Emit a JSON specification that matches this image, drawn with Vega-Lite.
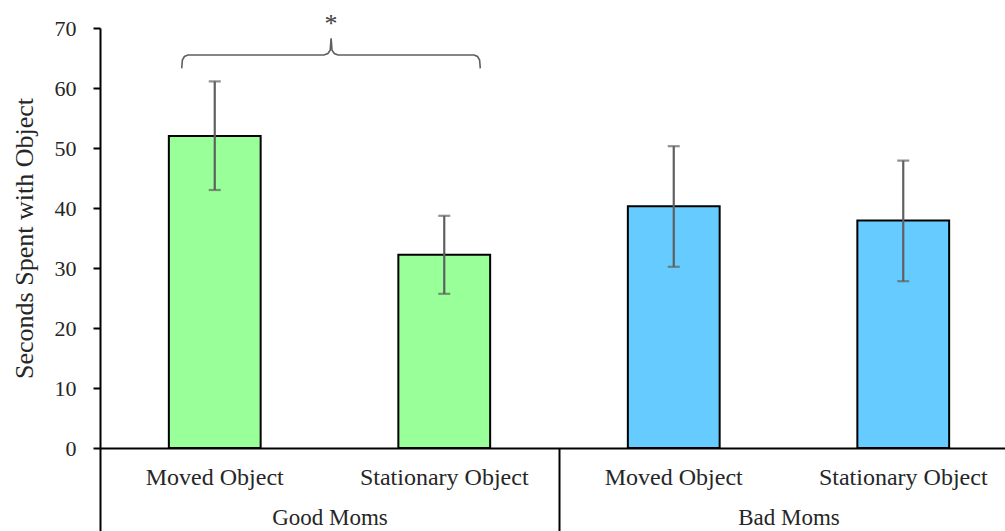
{
  "$schema": "https://vega.github.io/schema/vega-lite/v6.json",
  "width": 905,
  "height": 420,
  "autosize": {"type": "none"},
  "padding": {"left": 100, "top": 28, "right": 0, "bottom": 83},
  "background": "white",
  "config": {
    "view": {"stroke": null},
    "axis": {"grid": false},
    "axisY": {
      "domainColor": "black",
      "domainWidth": 2,
      "tickColor": "black",
      "tickWidth": 2,
      "tickSize": 7,
      "labelFont": "Liberation Serif",
      "labelFontSize": 22,
      "labelColor": "#262626",
      "labelPadding": 17,
      "titleFont": "Liberation Serif",
      "titleFontSize": 26,
      "titleFontWeight": "normal",
      "titleColor": "#262626",
      "titlePadding": 17
    }
  },
  "data": {
    "values": [
      {"group": "Good Moms", "cond": "Moved Object", "key": "Good Moms|Moved Object", "value": 52.0, "lo": 43.0, "hi": 61.1},
      {"group": "Good Moms", "cond": "Stationary Object", "key": "Good Moms|Stationary Object", "value": 32.2, "lo": 25.7, "hi": 38.7},
      {"group": "Bad Moms", "cond": "Moved Object", "key": "Bad Moms|Moved Object", "value": 40.3, "lo": 30.2, "hi": 50.3},
      {"group": "Bad Moms", "cond": "Stationary Object", "key": "Bad Moms|Stationary Object", "value": 37.9, "lo": 27.8, "hi": 47.9}
    ]
  },
  "layer": [
    {
      "mark": {"type": "bar", "stroke": "black", "strokeWidth": 2},
      "encoding": {
        "x": {
          "field": "group", "type": "nominal", "sort": ["Good Moms", "Bad Moms"],
          "scale": {"range": [0, 918], "paddingInner": 0, "paddingOuter": 0},
          "axis": {
            "orient": "bottom",
            "title": null, "labelAngle": 0, "domain": true, "domainColor": "black", "domainWidth": 2,
            "ticks": true, "tickBand": "extent", "tickSize": 83, "tickWidth": 2, "tickColor": "black",
            "labelFont": "Liberation Serif", "labelFontSize": 23, "labelColor": "#262626", "labelPadding": -25, "labelLimit": 400
          }
        },
        "xOffset": {
          "field": "cond", "type": "nominal", "sort": ["Moved Object", "Stationary Object"],
          "scale": {"paddingInner": 0.6, "paddingOuter": 0.3}
        },
        "y": {
          "field": "value", "type": "quantitative", "title": "Seconds Spent with Object",
          "scale": {"domain": [0, 70]},
          "axis": {"values": [0, 10, 20, 30, 40, 50, 60, 70]}
        },
        "fill": {
          "field": "group", "type": "nominal",
          "scale": {"domain": ["Good Moms", "Bad Moms"], "range": ["#99FF99", "#66CCFF"]},
          "legend": null
        }
      }
    },
    {
      "mark": {"type": "rule", "color": "#5f5f5f", "strokeWidth": 2.2},
      "encoding": {
        "x": {
          "field": "key", "type": "nominal",
          "sort": ["Good Moms|Moved Object", "Good Moms|Stationary Object", "Bad Moms|Moved Object", "Bad Moms|Stationary Object"],
          "scale": {"range": [0, 918], "paddingInner": 0.6, "paddingOuter": 0.3},
          "axis": {
            "orient": "bottom",
            "title": null, "labelAngle": 0, "domain": false, "ticks": false,
            "labelExpr": "split(datum.label, '|')[1]",
            "labelFont": "Liberation Serif", "labelFontSize": 24, "labelColor": "#262626", "labelPadding": 17, "labelLimit": 400
          }
        },
        "y": {"field": "lo", "type": "quantitative", "title": "Seconds Spent with Object", "scale": {"domain": [0, 70]}},
        "y2": {"field": "hi"}
      }
    },
    {
      "mark": {"type": "tick", "color": "#5f5f5f", "thickness": 2.2, "size": 12},
      "encoding": {
        "x": {
          "field": "key", "type": "nominal",
          "sort": ["Good Moms|Moved Object", "Good Moms|Stationary Object", "Bad Moms|Moved Object", "Bad Moms|Stationary Object"],
          "scale": {"range": [0, 918], "paddingInner": 0.6, "paddingOuter": 0.3},
          "axis": null
        },
        "y": {"field": "hi", "type": "quantitative", "title": "Seconds Spent with Object", "scale": {"domain": [0, 70]}}
      }
    },
    {
      "mark": {"type": "tick", "color": "#5f5f5f", "thickness": 2.2, "size": 12},
      "encoding": {
        "x": {
          "field": "key", "type": "nominal",
          "sort": ["Good Moms|Moved Object", "Good Moms|Stationary Object", "Bad Moms|Moved Object", "Bad Moms|Stationary Object"],
          "scale": {"range": [0, 918], "paddingInner": 0.6, "paddingOuter": 0.3},
          "axis": null
        },
        "y": {"field": "lo", "type": "quantitative", "title": "Seconds Spent with Object", "scale": {"domain": [0, 70]}}
      }
    },
    {
      "data": {
        "values": [
          {"bx": 0.356, "by": 63.28},
          {"bx": 0.359, "by": 64.67},
          {"bx": 0.368, "by": 65.25},
          {"bx": 0.383, "by": 65.5},
          {"bx": 0.976, "by": 65.5},
          {"bx": 0.993, "by": 65.75},
          {"bx": 1.003, "by": 66.3},
          {"bx": 1.007, "by": 68.28},
          {"bx": 1.011, "by": 66.3},
          {"bx": 1.021, "by": 65.75},
          {"bx": 1.037, "by": 65.5},
          {"bx": 1.63, "by": 65.5},
          {"bx": 1.645, "by": 65.25},
          {"bx": 1.654, "by": 64.67},
          {"bx": 1.657, "by": 63.28}
        ]
      },
      "mark": {"type": "line", "color": "#5f5f5f", "strokeWidth": 1.6, "interpolate": "linear"},
      "encoding": {
        "x": {"field": "bx", "type": "quantitative", "scale": {"domain": [0, 4], "range": [0, 918], "nice": false, "zero": false}, "axis": null},
        "y": {"field": "by", "type": "quantitative", "title": "Seconds Spent with Object", "scale": {"domain": [0, 70]}}
      }
    },
    {
      "data": {"values": [{"bx": 1.007, "by": 69.3, "label": "*"}]},
      "mark": {"type": "text", "font": "Liberation Serif", "fontSize": 26, "color": "#404040", "baseline": "alphabetic", "align": "center"},
      "encoding": {
        "x": {"field": "bx", "type": "quantitative", "scale": {"domain": [0, 4], "range": [0, 918], "nice": false, "zero": false}, "axis": null},
        "y": {"field": "by", "type": "quantitative", "title": "Seconds Spent with Object", "scale": {"domain": [0, 70]}},
        "text": {"field": "label"}
      }
    }
  ],
  "resolve": {"scale": {"x": "independent"}}
}
